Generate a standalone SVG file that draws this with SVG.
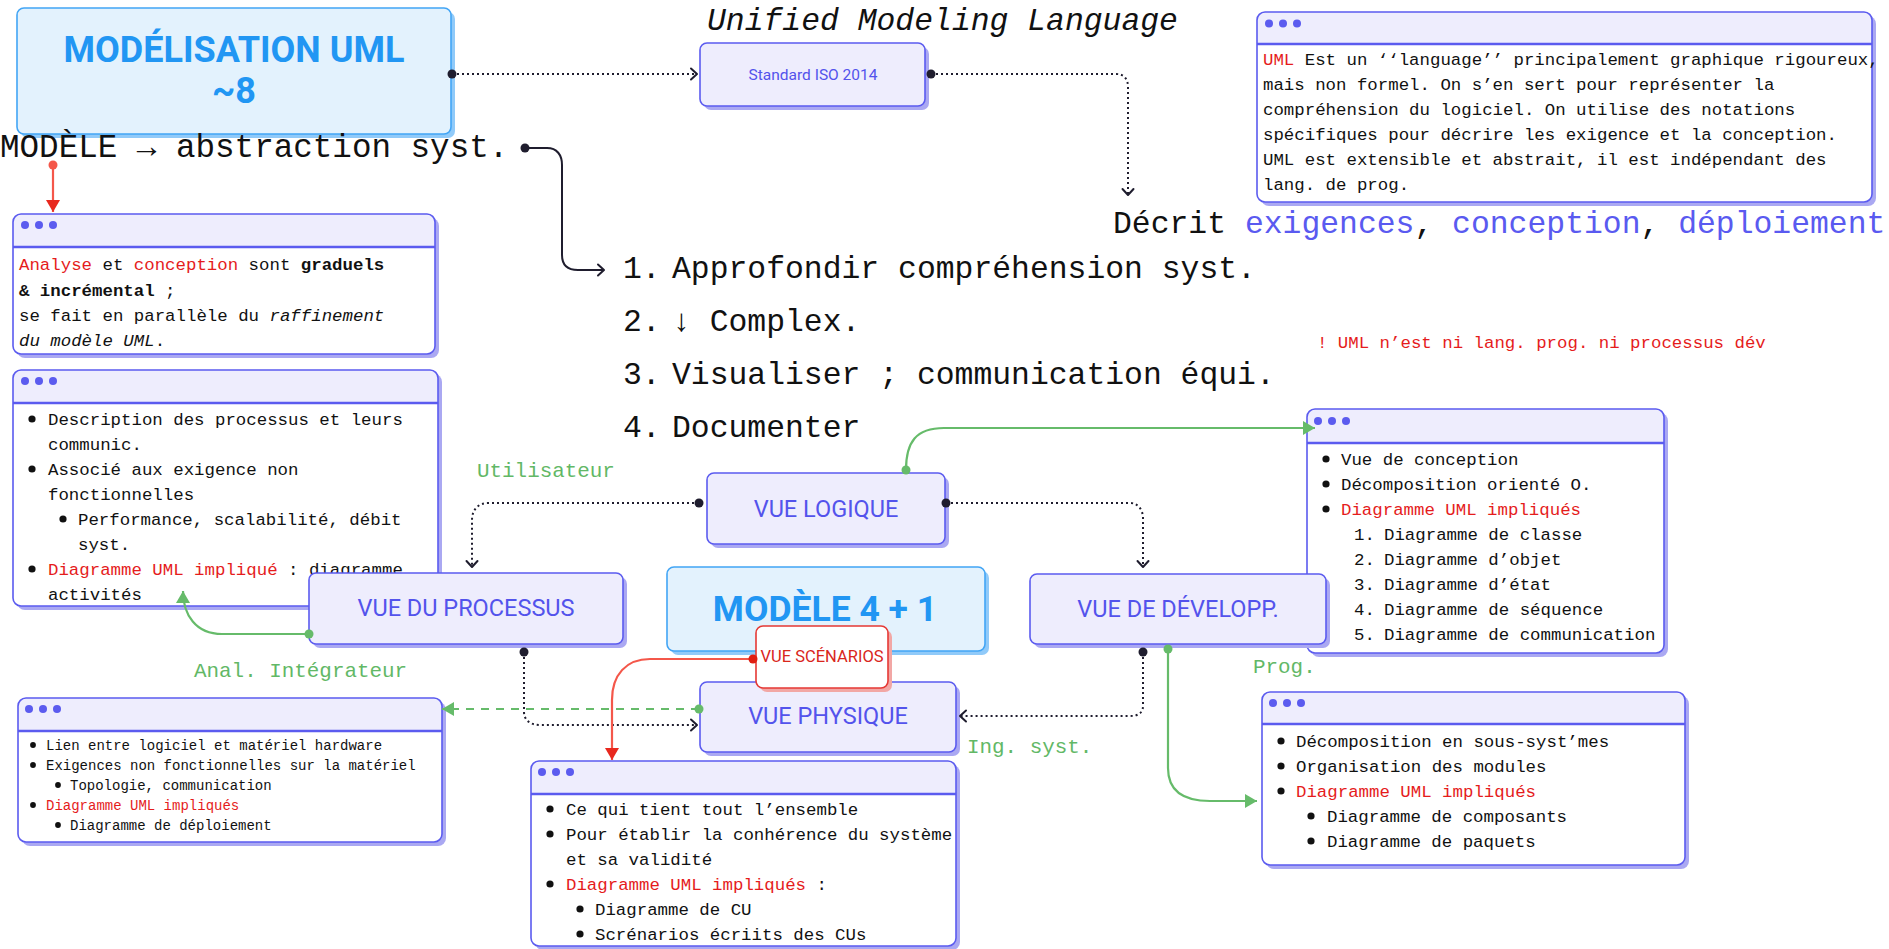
<svg xmlns="http://www.w3.org/2000/svg" width="1889" height="949" viewBox="0 0 1889 949">
<style>
.mono{font-family:"Liberation Mono","DejaVu Sans Mono",monospace;fill:#111}
.big{font-size:31.4px}
.body{font-size:17.4px}
.small{font-size:14px}
.lbl{font-size:20.9px;fill:#62b866}
.red{fill:#e51c1c}
.blue{fill:#5a5af0}
.b{font-weight:bold}
.i{font-style:italic}
.vue{font-family:Roboto,"Noto Sans","Liberation Sans",sans-serif;fill:#5353ec;text-anchor:middle;font-size:23.5px}
.lav{fill:#eeedfd;stroke:#5b5bef;stroke-width:1.6}
.lavsh{fill:#aaa8f2}
.bl{fill:#e3f2fd;stroke:#42a5f5;stroke-width:1.6}
.blsh{fill:#90caf9}
.blt{font-family:Roboto,"Noto Sans","Liberation Sans",sans-serif;font-weight:bold;fill:#2196f3;text-anchor:middle}
.nbody{fill:#fff}
.nhead{fill:#eeedfd}
.nline{stroke:#5b5bef;stroke-width:2.4}
.nframe{fill:none;stroke:#5b5bef;stroke-width:1.6}
.hd{fill:#5b5bef}
.bul{fill:#111}
.dot{stroke:#1f1d2e;stroke-width:2;fill:none;stroke-dasharray:2 3}
.solid{stroke:#1f1d2e;stroke-width:2;fill:none}
.gr{stroke:#66bb6a;stroke-width:2.2;fill:none}
.grd{stroke:#66bb6a;stroke-width:2.2;fill:none;stroke-dasharray:8 7}
.rd{stroke:#f4574a;stroke-width:2.2;fill:none}
</style>
<defs>
<marker id="ao" markerUnits="userSpaceOnUse" markerWidth="14" markerHeight="14" viewBox="0 0 14 14" refX="12" refY="7" orient="auto"><path d="M6,1.5 L12,7 L6,12.5" fill="none" stroke="#1f1d2e" stroke-width="2" stroke-linecap="round" stroke-linejoin="round"/></marker>
<marker id="ag" markerUnits="userSpaceOnUse" markerWidth="14" markerHeight="16" viewBox="0 0 14 16" refX="13" refY="8" orient="auto"><path d="M1,1 L13,8 L1,15 z" fill="#66bb6a"/></marker>
<marker id="ar" markerUnits="userSpaceOnUse" markerWidth="14" markerHeight="16" viewBox="0 0 14 16" refX="13" refY="8" orient="auto"><path d="M1,1 L13,8 L1,15 z" fill="#e8281e"/></marker>
</defs>
<rect width="1889" height="949" fill="#fff"/>

<!-- MODÉLISATION UML -->
<g id="modelisation-uml">
<rect class="blsh" x="21" y="12" width="434" height="126" rx="7"/>
<rect class="bl" x="17" y="8" width="434" height="126" rx="7"/>
<text class="blt" x="234" y="62" style="font-size:36px">MODÉLISATION UML</text>
<text class="blt" x="234" y="103" style="font-size:36px">~8</text>
</g>

<!-- free texts -->
<g id="title-uml"><text class="mono i" x="707" y="30" style="font-size:31.4px">Unified Modeling Language</text></g>
<g id="modele-abstraction"><text class="mono" x="0" y="157" style="font-size:32.6px">MODÈLE → abstraction syst.</text></g>
<g id="decrit"><text class="mono" x="1113" y="233" style="font-size:31.4px">Décrit <tspan class="blue">exigences</tspan>, <tspan class="blue">conception</tspan>, <tspan class="blue">déploiement</tspan></text></g>
<g id="liste" class="mono big">
<text x="623" y="278">1.</text><text x="672" y="278">Approfondir compréhension syst.</text>
<text x="623" y="331">2.</text><text x="672" y="331">↓ Complex.</text>
<text x="623" y="384">3.</text><text x="672" y="384">Visualiser ; communication équi.</text>
<text x="623" y="437">4.</text><text x="672" y="437">Documenter</text>
</g>
<g id="warning"><text class="mono body red" x="1317" y="348">! UML n’est ni lang. prog. ni processus dév</text></g>
<g id="labels">
<text class="mono lbl" x="477" y="477">Utilisateur</text>
<text class="mono lbl" x="194" y="677">Anal. Intégrateur</text>
<text class="mono lbl" x="967" y="753">Ing. syst.</text>
<text class="mono lbl" x="1253" y="673">Prog.</text>
</g>

<!-- Standard ISO -->
<g id="standard-iso">
<rect class="lavsh" x="704" y="47" width="225" height="63" rx="7"/>
<rect class="lav" x="700" y="43" width="225" height="63" rx="7"/>
<text class="vue" x="813" y="80" style="font-size:15.5px">Standard ISO 2014</text>
</g>

<!-- Note UML definition -->
<g id="note-uml-def">
<rect class="lavsh" x="1261" y="16" width="615" height="190" rx="8"/>
<rect class="nbody" x="1257" y="12" width="615" height="190" rx="8"/>
<path class="nhead" d="M1257,44 V20 Q1257,12 1265,12 H1864 Q1872,12 1872,20 V44 Z"/>
<line class="nline" x1="1257" y1="44" x2="1872" y2="44"/>
<rect class="nframe" x="1257" y="12" width="615" height="190" rx="8"/>
<circle class="hd" cx="1269" cy="23.5" r="4"/><circle class="hd" cx="1283" cy="23.5" r="4"/><circle class="hd" cx="1297" cy="23.5" r="4"/>
<g class="mono" style="font-size:17.4px">
<text x="1263" y="65"><tspan class="red">UML</tspan> Est un ‘‘language’’ principalement graphique rigoureux,</text>
<text x="1263" y="90">mais non formel. On s’en sert pour représenter la</text>
<text x="1263" y="115">compréhension du logiciel. On utilise des notations</text>
<text x="1263" y="140">spécifiques pour décrire les exigence et la conception.</text>
<text x="1263" y="165">UML est extensible et abstrait, il est indépendant des</text>
<text x="1263" y="190">lang. de prog.</text>
</g>
</g>

<!-- Note Analyse -->
<g id="note-analyse">
<rect class="lavsh" x="17" y="218" width="422" height="140" rx="8"/>
<rect class="nbody" x="13" y="214" width="422" height="140" rx="8"/>
<path class="nhead" d="M13,247 V222 Q13,214 21,214 H427 Q435,214 435,222 V247 Z"/>
<line class="nline" x1="13" y1="247" x2="435" y2="247"/>
<rect class="nframe" x="13" y="214" width="422" height="140" rx="8"/>
<circle class="hd" cx="25" cy="225" r="4"/><circle class="hd" cx="39" cy="225" r="4"/><circle class="hd" cx="53" cy="225" r="4"/>
<g class="mono body">
<text x="19" y="270"><tspan class="red">Analyse</tspan> et <tspan class="red">conception</tspan> sont <tspan class="b">graduels</tspan></text>
<text x="19" y="296"><tspan class="b">&amp; incrémental</tspan> ;</text>
<text x="19" y="321">se fait en parallèle du <tspan class="i">raffinement</tspan></text>
<text x="19" y="346"><tspan class="i">du modèle UML</tspan>.</text>
</g>
</g>

<!-- Note processus -->
<g id="note-processus">
<rect class="lavsh" x="17" y="374" width="425" height="236" rx="8"/>
<rect class="nbody" x="13" y="370" width="425" height="236" rx="8"/>
<path class="nhead" d="M13,403 V378 Q13,370 21,370 H430 Q438,370 438,378 V403 Z"/>
<line class="nline" x1="13" y1="403" x2="438" y2="403"/>
<rect class="nframe" x="13" y="370" width="425" height="236" rx="8"/>
<circle class="hd" cx="25" cy="381" r="4"/><circle class="hd" cx="39" cy="381" r="4"/><circle class="hd" cx="53" cy="381" r="4"/>
<g class="mono body">
<circle class="bul" cx="32" cy="419" r="3.6"/><text x="48" y="425">Description des processus et leurs</text>
<text x="48" y="450">communic.</text>
<circle class="bul" cx="32" cy="469" r="3.6"/><text x="48" y="475">Associé aux exigence non</text>
<text x="48" y="500">fonctionnelles</text>
<circle class="bul" cx="63" cy="519" r="3.6"/><text x="78" y="525">Performance, scalabilité, débit</text>
<text x="78" y="550">syst.</text>
<circle class="bul" cx="32" cy="569" r="3.6"/><text x="48" y="575"><tspan class="red">Diagramme UML impliqué</tspan> : diagramme</text>
<text x="48" y="600">activités</text>
</g>
</g>

<!-- Note physique -->
<g id="note-physique">
<rect class="lavsh" x="22" y="702" width="424" height="144" rx="8"/>
<rect class="nbody" x="18" y="698" width="424" height="144" rx="8"/>
<path class="nhead" d="M18,731 V706 Q18,698 26,698 H434 Q442,698 442,706 V731 Z"/>
<line class="nline" x1="18" y1="731" x2="442" y2="731"/>
<rect class="nframe" x="18" y="698" width="424" height="144" rx="8"/>
<circle class="hd" cx="29" cy="709" r="4"/><circle class="hd" cx="43" cy="709" r="4"/><circle class="hd" cx="57" cy="709" r="4"/>
<g class="mono small">
<circle class="bul" cx="33" cy="745" r="2.9"/><text x="46" y="750">Lien entre logiciel et matériel hardware</text>
<circle class="bul" cx="33" cy="765" r="2.9"/><text x="46" y="770">Exigences non fonctionnelles sur la matériel</text>
<circle class="bul" cx="58" cy="785" r="2.9"/><text x="70" y="790">Topologie, communication</text>
<circle class="bul" cx="33" cy="805" r="2.9"/><text x="46" y="810" class="red">Diagramme UML impliqués</text>
<circle class="bul" cx="58" cy="825" r="2.9"/><text x="70" y="830">Diagramme de déploiement</text>
</g>
</g>

<!-- Note scénarios -->
<g id="note-scenarios">
<rect class="lavsh" x="535" y="765" width="425" height="185" rx="8"/>
<rect class="nbody" x="531" y="761" width="425" height="185" rx="8"/>
<path class="nhead" d="M531,794 V769 Q531,761 539,761 H948 Q956,761 956,769 V794 Z"/>
<line class="nline" x1="531" y1="794" x2="956" y2="794"/>
<rect class="nframe" x="531" y="761" width="425" height="185" rx="8"/>
<circle class="hd" cx="542" cy="772" r="4"/><circle class="hd" cx="556" cy="772" r="4"/><circle class="hd" cx="570" cy="772" r="4"/>
<g class="mono body">
<circle class="bul" cx="550" cy="809" r="3.6"/><text x="566" y="815">Ce qui tient tout l’ensemble</text>
<circle class="bul" cx="550" cy="834" r="3.6"/><text x="566" y="840">Pour établir la conhérence du système</text>
<text x="566" y="865">et sa validité</text>
<circle class="bul" cx="550" cy="884" r="3.6"/><text x="566" y="890"><tspan class="red">Diagramme UML impliqués</tspan> :</text>
<circle class="bul" cx="580" cy="909" r="3.6"/><text x="595" y="915">Diagramme de CU</text>
<circle class="bul" cx="580" cy="934" r="3.6"/><text x="595" y="940">Scrénarios écriits des CUs</text>
</g>
</g>

<!-- Note logique -->
<g id="note-logique">
<rect class="lavsh" x="1311" y="413" width="357" height="244" rx="8"/>
<rect class="nbody" x="1307" y="409" width="357" height="244" rx="8"/>
<path class="nhead" d="M1307,443 V417 Q1307,409 1315,409 H1656 Q1664,409 1664,417 V443 Z"/>
<line class="nline" x1="1307" y1="443" x2="1664" y2="443"/>
<rect class="nframe" x="1307" y="409" width="357" height="244" rx="8"/>
<circle class="hd" cx="1318" cy="421" r="4"/><circle class="hd" cx="1332" cy="421" r="4"/><circle class="hd" cx="1346" cy="421" r="4"/>
<g class="mono body">
<circle class="bul" cx="1326" cy="459" r="3.6"/><text x="1341" y="465">Vue de conception</text>
<circle class="bul" cx="1326" cy="484" r="3.6"/><text x="1341" y="490">Décomposition orienté O.</text>
<circle class="bul" cx="1326" cy="509" r="3.6"/><text x="1341" y="515" class="red">Diagramme UML impliqués</text>
<text x="1354" y="540">1.</text><text x="1384" y="540">Diagramme de classe</text>
<text x="1354" y="565">2.</text><text x="1384" y="565">Diagramme d’objet</text>
<text x="1354" y="590">3.</text><text x="1384" y="590">Diagramme d’état</text>
<text x="1354" y="615">4.</text><text x="1384" y="615">Diagramme de séquence</text>
<text x="1354" y="640">5.</text><text x="1384" y="640">Diagramme de communication</text>
</g>
</g>

<!-- Note développement -->
<g id="note-developpement">
<rect class="lavsh" x="1266" y="696" width="423" height="173" rx="8"/>
<rect class="nbody" x="1262" y="692" width="423" height="173" rx="8"/>
<path class="nhead" d="M1262,724 V700 Q1262,692 1270,692 H1677 Q1685,692 1685,700 V724 Z"/>
<line class="nline" x1="1262" y1="724" x2="1685" y2="724"/>
<rect class="nframe" x="1262" y="692" width="423" height="173" rx="8"/>
<circle class="hd" cx="1273" cy="703" r="4"/><circle class="hd" cx="1287" cy="703" r="4"/><circle class="hd" cx="1301" cy="703" r="4"/>
<g class="mono body">
<circle class="bul" cx="1281" cy="741" r="3.6"/><text x="1296" y="747">Décomposition en sous-syst’mes</text>
<circle class="bul" cx="1281" cy="766" r="3.6"/><text x="1296" y="772">Organisation des modules</text>
<circle class="bul" cx="1281" cy="791" r="3.6"/><text x="1296" y="797" class="red">Diagramme UML impliqués</text>
<circle class="bul" cx="1311" cy="816" r="3.6"/><text x="1327" y="822">Diagramme de composants</text>
<circle class="bul" cx="1311" cy="841" r="3.6"/><text x="1327" y="847">Diagramme de paquets</text>
</g>
</g>

<!-- Views -->
<g id="vue-logique">
<rect class="lavsh" x="711" y="477" width="238" height="71" rx="7"/>
<rect class="lav" x="707" y="473" width="238" height="71" rx="7"/>
<text class="vue" x="826" y="517">VUE LOGIQUE</text>
</g>
<g id="vue-processus">
<rect class="lavsh" x="313" y="577" width="314" height="71" rx="7"/>
<rect class="lav" x="309" y="573" width="314" height="71" rx="7"/>
<text class="vue" x="466" y="616">VUE DU PROCESSUS</text>
</g>
<g id="vue-developpement">
<rect class="lavsh" x="1034" y="578" width="296" height="70" rx="7"/>
<rect class="lav" x="1030" y="574" width="296" height="70" rx="7"/>
<text class="vue" x="1178" y="617">VUE DE DÉVELOPP.</text>
</g>
<g id="modele-4-1">
<rect class="blsh" x="671" y="571" width="318" height="84" rx="7"/>
<rect class="bl" x="667" y="567" width="318" height="84" rx="7"/>
<text class="blt" x="825" y="621" style="font-size:35.5px">MODÈLE 4 + 1</text>
</g>
<g id="vue-physique">
<rect class="lavsh" x="704" y="686" width="256" height="70" rx="7"/>
<rect class="lav" x="700" y="682" width="256" height="70" rx="7"/>
<text class="vue" x="828" y="724">VUE PHYSIQUE</text>
</g>
<g id="vue-scenarios">
<rect x="760" y="630" width="132" height="62" rx="7" fill="#f2a7a5"/>
<rect x="756" y="626" width="132" height="62" rx="7" fill="#fff" stroke="#e53935" stroke-width="1.6"/>
<text x="822" y="662" text-anchor="middle" style="font-family:Roboto,'Noto Sans','Liberation Sans',sans-serif;font-size:16.5px;fill:#d9261c">VUE SCÉNARIOS</text>
</g>

<!-- Connectors -->
<g id="connectors">
<path class="dot" d="M452,74 H697" marker-end="url(#ao)"/>
<circle cx="452" cy="74" r="4.5" fill="#1f1d2e"/>
<path class="dot" d="M931,74 H1116 C1124,74 1128,79 1128,87 V195" marker-end="url(#ao)"/>
<circle cx="931" cy="74" r="4.5" fill="#1f1d2e"/>
<path class="solid" d="M525,148 H547 C557,148 562,155 562,165 V255 C562,265 568,270 578,270 H604" marker-end="url(#ao)"/>
<circle cx="525" cy="148" r="4.5" fill="#1f1d2e"/>
<path class="rd" d="M53,165 V212" marker-end="url(#ar)"/>
<circle cx="53" cy="165" r="4.5" fill="#f4574a"/>
<path class="dot" d="M699,503 H488 C478,503 472,510 472,520 V567" marker-end="url(#ao)"/>
<circle cx="699" cy="503" r="4.5" fill="#1f1d2e"/>
<path class="dot" d="M946,503 H1130 C1138,503 1143,510 1143,518 V567" marker-end="url(#ao)"/>
<circle cx="946" cy="503" r="4.5" fill="#1f1d2e"/>
<path class="gr" d="M906,470 C906,442 916,428 944,428 H1315" marker-end="url(#ag)"/>
<circle cx="906" cy="470" r="4.5" fill="#66bb6a"/>
<path class="gr" d="M309,634 H222 C196,634 183,615 183,591" marker-end="url(#ag)"/>
<circle cx="309" cy="634" r="4.5" fill="#66bb6a"/>
<path class="dot" d="M524,652 V712 C524,720 530,725 540,725 H697" marker-end="url(#ao)"/>
<circle cx="524" cy="652" r="4.5" fill="#1f1d2e"/>
<path class="grd" d="M699,709 H442" marker-end="url(#ag)"/>
<circle cx="699" cy="709" r="4.5" fill="#66bb6a"/>
<path class="rd" d="M753,659 H650 C626,659 612,675 612,700 V760" marker-end="url(#ar)"/>
<circle cx="753" cy="659" r="4.5" fill="#e01e12"/>
<path class="dot" d="M1143,652 V706 C1143,713 1138,716 1130,716 H960" marker-end="url(#ao)"/>
<circle cx="1143" cy="652" r="4.5" fill="#1f1d2e"/>
<path class="gr" d="M1168,649 V768 C1168,790 1182,801 1210,801 H1257" marker-end="url(#ag)"/>
<circle cx="1168" cy="649" r="4.5" fill="#66bb6a"/>
</g>
</svg>
